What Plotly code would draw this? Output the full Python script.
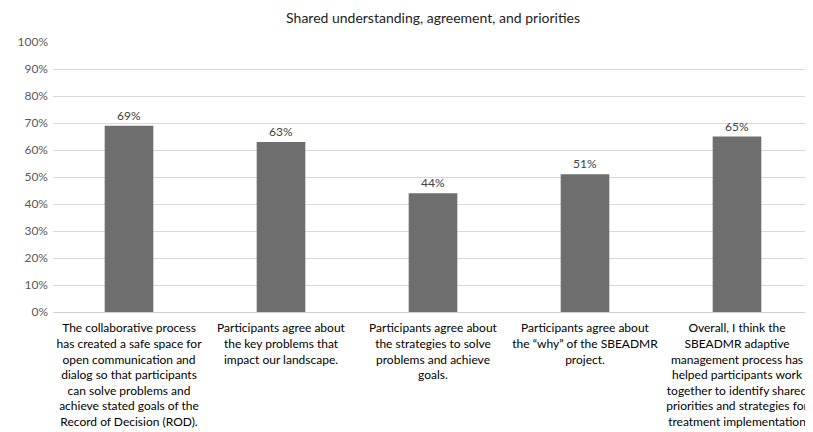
import plotly.graph_objects as go

categories = [
    "The collaborative process<br>has created a safe space for<br>open communication and<br>dialog so that participants<br>can solve problems and<br>achieve stated goals of the<br>Record of Decision (ROD).",
    "Participants agree about<br>the key problems that<br>impact our landscape.",
    "Participants agree about<br>the strategies to solve<br>problems and achieve<br>goals.",
    "Participants agree about<br>the \u201cwhy\u201d of the SBEADMR<br>project.",
    "Overall, I think the<br>SBEADMR adaptive<br>management process has<br>helped participants work<br>together to identify shared<br>priorities and strategies for<br>treatment implementation",
]
values = [0.69, 0.63, 0.44, 0.51, 0.65]
labels = ["69%", "63%", "44%", "51%", "65%"]
title = "Shared understanding, agreement, and priorities"

fig = go.Figure(go.Bar(
    x=categories, y=values, text=labels, textposition="outside",
    marker=dict(color="#6e6e6e", line=dict(width=0)),
    textfont=dict(size=12, color="#404040", family="Lato"),
    cliponaxis=False,
))
fig.update_layout(
    width=805, height=424,
    margin=dict(l=45, r=0, t=34, b=120),
    paper_bgcolor="white", plot_bgcolor="white",
    font=dict(family="Lato", size=12, color="#000000"),
    title=dict(text=title, x=0.528, xanchor="center", y=0.977, yanchor="middle",
               font=dict(size=14, color="#222222", family="Lato")),
    bargap=0.68,
    showlegend=False,
)
fig.update_yaxes(range=[0, 1], tickformat=".0%", dtick=0.1, automargin=False,
                 gridcolor="#d9d9d9", gridwidth=1, zeroline=False,
                 tickfont=dict(size=12, color="#595959"), ticks="", ticklen=0,
                 ticklabelstandoff=4, showline=False)
fig.update_xaxes(showline=True, linecolor="#d0d0d0", linewidth=1, automargin=False,
                 tickfont=dict(size=12, color="#000000"), tickangle=0, ticks="",
                 ticklabelstandoff=5)
fig.write_html("out.html")
